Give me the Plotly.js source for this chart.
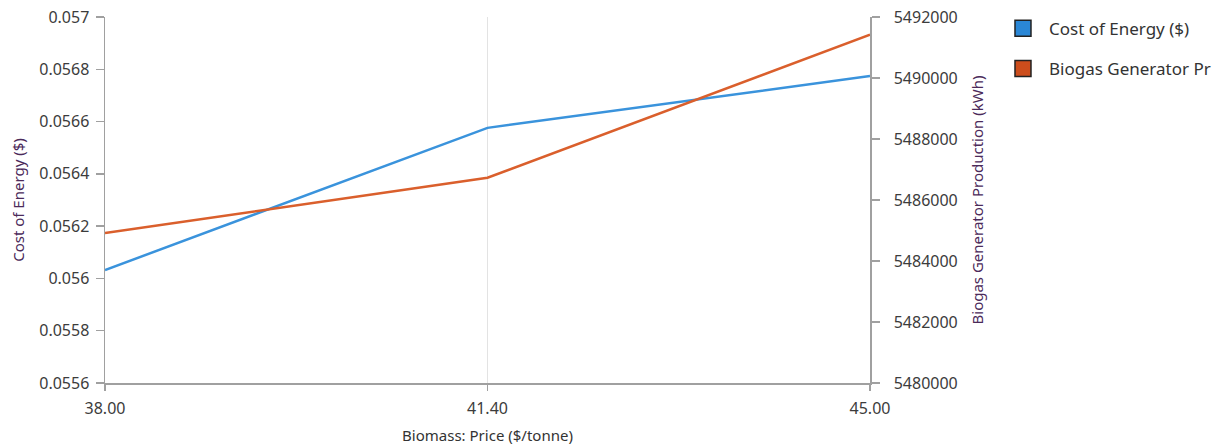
<!DOCTYPE html>
<html>
<head>
<meta charset="utf-8">
<script src="https://cdn.plot.ly/plotly-3.0.1.min.js"></script>
<style>html,body{margin:0;padding:0;background:#fff;}#chart{width:1215px;height:445px;}</style>
</head>
<body>
<div id="chart"></div>
<script>
const biomassPrice = ['38.00', '41.40', '45.00'];
const costOfEnergy = [0.056032, 0.056576, 0.056774];
const biogasProduction = [5484920, 5486730, 5491420];
const seriesNames = ['Cost of Energy ($)', 'Biogas Generator Production (kWh)'];
const legendLabels = ['Cost of Energy ($)', 'Biogas Generator Pr'];
const seriesLineColors = ['#3a93dc', '#da5f2c'];
const seriesFillColors = ['#2a87d6', '#cc4d1c'];

const FONT = 'Noto Sans, DejaVu Sans, sans-serif';

const traces = [
  {x: biomassPrice, y: costOfEnergy, type: 'scatter', mode: 'lines', yaxis: 'y',
   line: {color: seriesLineColors[0], width: 2.5}, showlegend: false, name: seriesNames[0]},
  {x: biomassPrice, y: biogasProduction, type: 'scatter', mode: 'lines', yaxis: 'y2',
   line: {color: seriesLineColors[1], width: 2.5}, showlegend: false, name: seriesNames[1]},
  {x: [null], y: [null], type: 'scatter', mode: 'markers', name: legendLabels[0], legendgroup: 'a',
   marker: {symbol: 'square', size: 18, color: seriesFillColors[0], line: {color: '#222', width: 1.5}}},
  {x: [null], y: [null], type: 'scatter', mode: 'markers', name: legendLabels[1], legendgroup: 'b',
   marker: {symbol: 'square', size: 18, color: seriesFillColors[1], line: {color: '#222', width: 1.5}}}
];

const layout = {
  width: 1215, height: 445,
  margin: {l: 105, r: 345, t: 17, b: 62, autoexpand: false},
  paper_bgcolor: '#fff', plot_bgcolor: '#fff',
  font: {family: FONT, size: 16, color: '#3c3c3c'},
  xaxis: {
    type: 'category', range: [0, 2], showgrid: true, gridcolor: '#e3e3e3', gridwidth: 1,
    zeroline: false, showline: true, linecolor: '#a0a0a0', linewidth: 1.5,
    ticks: 'outside', ticklen: 6, tickcolor: '#a0a0a0', tickwidth: 1.5, ticklabelstandoff: 4,
    tickfont: {family: FONT, size: 16, color: '#3c3c3c'},
    title: {text: 'Biomass: Price ($/tonne)', standoff: 16, font: {family: FONT, size: 15, color: '#333'}}
  },
  yaxis: {
    range: [0.0556, 0.057], dtick: 0.0002, showgrid: false, zeroline: false,
    showline: true, linecolor: '#a0a0a0', linewidth: 1.5,
    ticks: 'outside', ticklen: 8, tickcolor: '#a0a0a0', tickwidth: 1.5, ticklabelstandoff: 3,
    tickfont: {family: FONT, size: 16, color: '#3c3c3c'},
    title: {text: 'Cost of Energy ($)', standoff: 11, font: {family: FONT, size: 15, color: '#4b2a5a'}}
  },
  yaxis2: {
    overlaying: 'y', side: 'right', range: [5480000, 5492000], dtick: 2000, tickformat: 'd',
    showgrid: false, zeroline: false, showline: true, linecolor: '#a0a0a0', linewidth: 1.5,
    ticks: 'outside', ticklen: 8, tickcolor: '#a0a0a0', tickwidth: 1.5, ticklabelstandoff: 11,
    tickfont: {family: FONT, size: 16, color: '#3c3c3c'},
    title: {text: 'Biogas Generator Production (kWh)', standoff: 15, font: {family: FONT, size: 15, color: '#4b2a5a'}}
  },
  showlegend: true,
  legend: {
    x: 1.166, xanchor: 'left', y: 1.017, yanchor: 'top',
    traceorder: 'grouped', tracegroupgap: 15, itemwidth: 42,
    font: {family: FONT, size: 17, color: '#333'},
    bgcolor: 'rgba(0,0,0,0)', itemclick: false
  }
};

Plotly.newPlot('chart', traces, layout, {displayModeBar: false, staticPlot: true});
</script>
</body>
</html>
